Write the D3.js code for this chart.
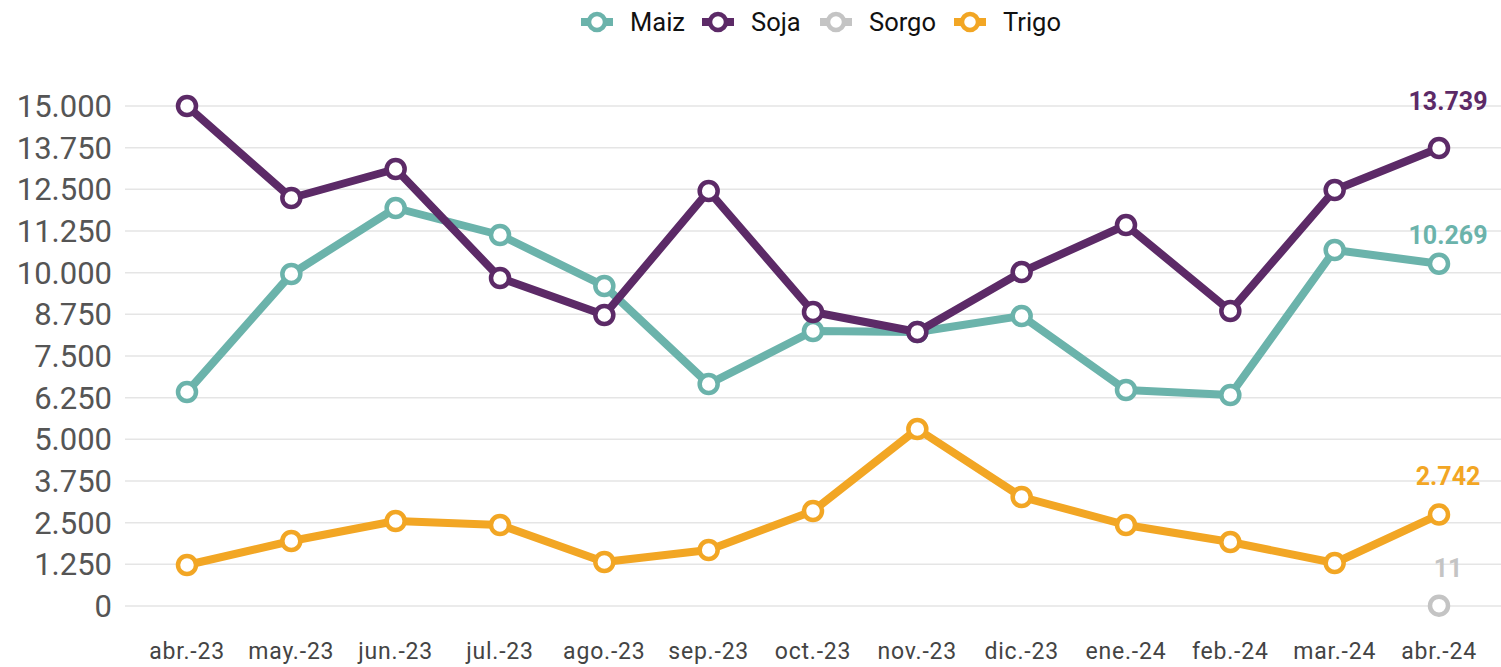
<!DOCTYPE html>
<html><head><meta charset="utf-8">
<script src="https://cdn.jsdelivr.net/npm/d3@7"></script>
<style>body{margin:0;background:#fff}svg{display:block;font-family:Roboto,sans-serif}</style>
</head><body><svg id="c" width="1501" height="667"></svg>
<script>
const months = ["abr.-23","may.-23","jun.-23","jul.-23","ago.-23","sep.-23","oct.-23","nov.-23","dic.-23","ene.-24","feb.-24","mar.-24","abr.-24"];
const maiz  = [6420,9960,11940,11130,9600,6660,8250,8220,8700,6480,6330,10680,10269];
const soja  = [15000,12240,13110,9840,8730,12450,8820,8220,10020,11430,8850,12480,13739];
const sorgo = [null,null,null,null,null,null,null,null,null,null,null,null,11];
const trigo = [1230,1950,2550,2430,1320,1680,2850,5310,3270,2430,1920,1290,2742];
const yTicks = [0,1250,2500,3750,5000,6250,7500,8750,10000,11250,12500,13750,15000];
const seriesNames = ["Maiz","Soja","Sorgo","Trigo"];
const colors = ["#6bb3ab","#5c2a67","#c4c4c4","#f2a624"];
const series = [maiz, soja, sorgo, trigo];
const labelOffsets = [-29,-47,-38,-39];

const svg = d3.select("#c");
const x = d3.scalePoint().domain(months).range([187,1439]);
const y = d3.scaleLinear().domain([0,15000]).range([606,106]);
const fmt = v => d3.format(",")(v).replace(/,/g,".");

svg.append("g").selectAll("line").data(yTicks).join("line")
  .attr("x1",125).attr("x2",1501).attr("y1",d=>y(d)).attr("y2",d=>y(d))
  .attr("stroke","#e5e5e5").attr("stroke-width",1.5);
svg.append("g").selectAll("text").data(yTicks).join("text")
  .attr("x",112).attr("y",d=>y(d)).attr("dy","0.36em").attr("text-anchor","end")
  .attr("font-size",31).attr("fill","#555").text(d=>fmt(d));
svg.append("g").selectAll("text").data(months).join("text")
  .attr("x",d=>x(d)).attr("y",659).attr("text-anchor","middle")
  .attr("font-size",23).attr("letter-spacing","0.8px").attr("fill","#444").text(d=>d);

const order = [3,0,1,2];
const line = d3.line().defined(d=>d!=null).x((d,i)=>x(months[i])).y(d=>y(d));
order.forEach(k=>{
  const data = series[k];
  const g = svg.append("g");
  g.append("path").datum(data).attr("d", line).attr("fill","none")
    .attr("stroke",colors[k]).attr("stroke-width",8).attr("stroke-linejoin","round");
  g.selectAll("circle").data(data.map((v,i)=>({v,i})).filter(d=>d.v!=null)).join("circle")
    .attr("cx",d=>x(months[d.i])).attr("cy",d=>y(d.v)).attr("r",9)
    .attr("fill","#fff").attr("stroke",colors[k]).attr("stroke-width",4.5);
  const last = data[data.length-1];
  svg.append("text").attr("x",x(months[12])+9).attr("y",y(last)+labelOffsets[k])
    .attr("text-anchor","middle").attr("font-size",25).attr("font-weight","bold")
    .attr("fill",colors[k]).attr("dy","0.36em").text(fmt(last));
});

const legX = [597,718,836,970];
seriesNames.forEach((n,k)=>{
  const g = svg.append("g").attr("transform",`translate(${legX[k]},22)`);
  g.append("line").attr("x1",-16).attr("x2",16).attr("stroke",colors[k]).attr("stroke-width",8);
  g.append("circle").attr("r",8).attr("fill","#fff").attr("stroke",colors[k]).attr("stroke-width",4.5);
  g.append("text").attr("x",33).attr("dy","0.36em").attr("font-size",25.5).attr("fill","#111").text(n);
});
</script></body></html>
